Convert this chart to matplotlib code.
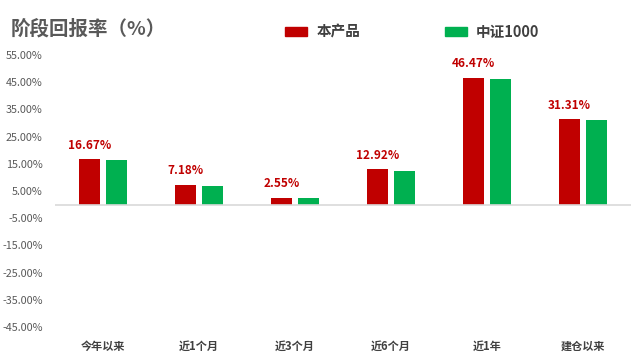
import numpy as np
import matplotlib.pyplot as plt
from matplotlib.patches import Patch

plt.rcParams['font.family'] = ['Noto Sans CJK SC', 'DejaVu Sans']

categories = ['今年以来', '近1个月', '近3个月', '近6个月', '近1年', '建仓以来']
product = [16.67, 7.18, 2.55, 12.92, 46.47, 31.31]
index1000 = [16.3, 6.95, 2.45, 12.5, 46.1, 30.9]
yticks = [-45, -35, -25, -15, -5, 5, 15, 25, 35, 45, 55]

red = '#c00000'
green = '#00b050'
grey = '#595959'

fig = plt.figure(figsize=(6.4, 3.61), dpi=100)
ax = fig.add_axes([0.086, 0.094, 0.9, 0.754])

x = np.arange(len(categories))
w = 0.22
ax.bar(x - 0.14, product, w, color=red)
ax.bar(x + 0.14, index1000, w, color=green)

for xi, v in zip(x, product):
    ax.text(xi - 0.14, v + 2.8, f'{v:.2f}%', ha='center', va='bottom',
            color=red, fontsize=8.5, fontweight='bold')

ax.axhline(0, color='#d9d9d9', lw=1.2)
ax.set_xlim(-0.5, len(categories) - 0.5)
ax.set_ylim(-45, 55)
ax.set_yticks(yticks)
ax.set_yticklabels([f'{t:.2f}%' for t in yticks], color=grey, fontsize=7.8)
ax.set_xticks(x)
ax.set_xticklabels(categories, color='#404040', fontsize=8, fontweight='bold')
ax.tick_params(length=0)
ax.tick_params(axis='y', pad=9)
ax.tick_params(axis='x', pad=9)
for s in ax.spines.values():
    s.set_visible(False)

fig.text(0.016, 0.92, '阶段回报率（%）', fontsize=14, fontweight='bold',
         color=grey, va='center')

handles = [Patch(color=red, label='本产品'), Patch(color=green, label='中证1000')]
leg = fig.legend(handles=handles, loc='center', bbox_to_anchor=(0.644, 0.912),
                 ncol=2, frameon=False, fontsize=10.5, handlelength=1.55,
                 handleheight=0.55, columnspacing=5.8, handletextpad=0.6)
for t in leg.get_texts():
    t.set_color('#404040')
    t.set_fontweight('bold')

fig.savefig('out.png', dpi=100)
